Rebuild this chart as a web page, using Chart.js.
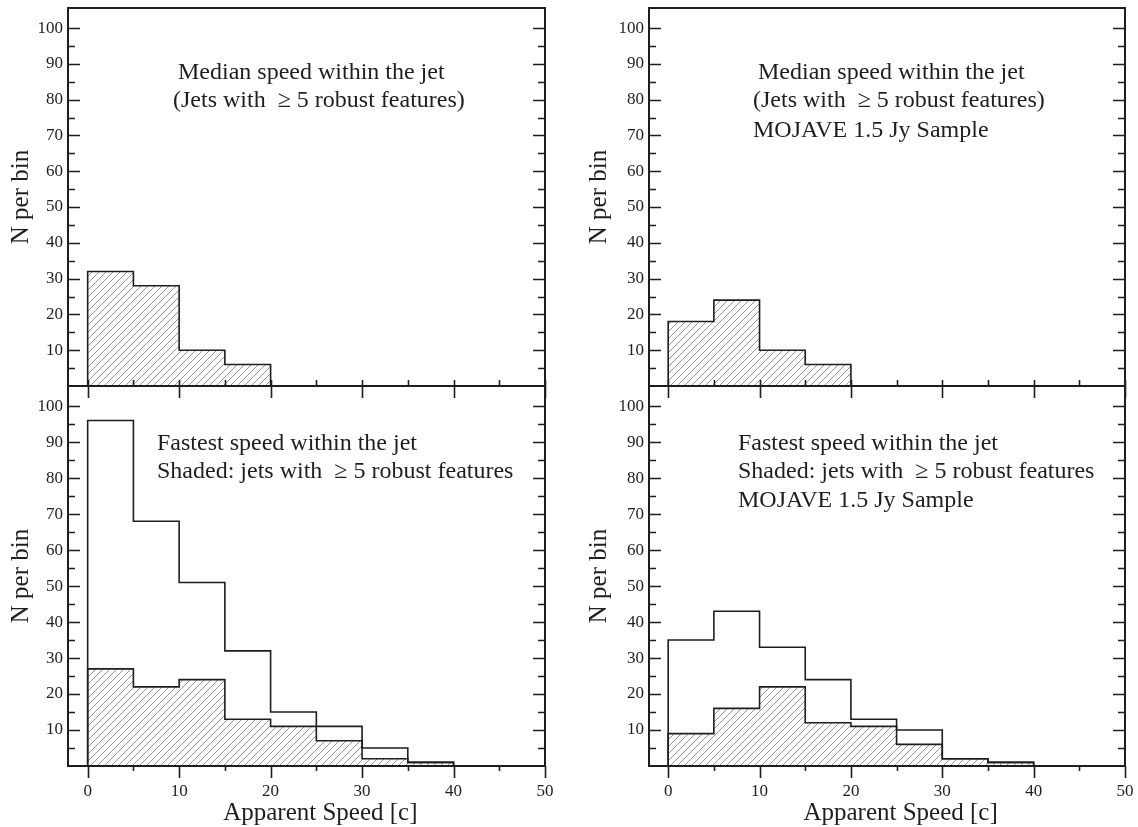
<!DOCTYPE html>
<html><head><meta charset="utf-8">
<script src="https://cdn.jsdelivr.net/npm/chart.js@4.4.1/dist/chart.umd.min.js"></script>
<style>
html,body{margin:0;padding:0;background:#fff;}
#wrap{position:relative;width:1138px;height:827px;overflow:hidden;background:#fff;}
canvas{position:absolute;}
</style></head><body>
<div id="wrap">
<canvas id="tl" width="565" height="400" style="left:0px;top:0px"></canvas>
<canvas id="tr" width="558" height="400" style="left:580px;top:0px"></canvas>
<canvas id="bl" width="565" height="447" style="left:0px;top:380px"></canvas>
<canvas id="br" width="558" height="447" style="left:580px;top:380px"></canvas>
</div>
<script>
// ---- data ----
const binEdges = [0, 5, 10, 15, 20, 25, 30, 35, 40, 45];
const binEnd = 50;
const medianRobustAll    = [32, 28, 10, 6, 0, 0, 0, 0, 0, 0];
const medianRobustMojave = [18, 24, 10, 6, 0, 0, 0, 0, 0, 0];
const fastestAll         = [96, 68, 51, 32, 15, 11, 5, 1, 0, 0];
const fastestRobustAll   = [27, 22, 24, 13, 11, 7, 2, 1, 0, 0];
const fastestMojave      = [35, 43, 33, 24, 13, 10, 2, 1, 0, 0];
const fastestRobustMojave= [9, 16, 22, 12, 11, 6, 2, 1, 0, 0];
const xTickLabels = [0, 10, 20, 30, 40, 50];
const yTickLabels = [10, 20, 30, 40, 50, 60, 70, 80, 90, 100];
const xTitle = 'Apparent Speed [c]';
const yTitle = 'N per bin';

const FONT = "'Liberation Serif', 'Times New Roman', serif";
const INK = '#1e1e1e';

function stepPoints(vals) {
  const pts = [{x: binEdges[0], y: 0}];
  vals.forEach((v, i) => pts.push({x: binEdges[i], y: v}));
  pts.push({x: binEnd, y: 0});
  return pts;
}

function hatch(ctx) {
  const c = document.createElement('canvas');
  c.width = 7; c.height = 7;
  const g = c.getContext('2d');
  g.strokeStyle = '#959595';
  g.lineWidth = 1;
  g.beginPath();
  g.moveTo(0, 7); g.lineTo(7, 0);
  g.moveTo(-1, 1); g.lineTo(1, -1);
  g.moveTo(6, 8); g.lineTo(8, 6);
  g.stroke();
  return ctx.createPattern(c, 'repeat');
}

const framePlugin = {
  id: 'frame',
  afterDatasetsDraw(chart, args, opts) {
    const {ctx, chartArea: a, scales: {x, y}} = chart;
    ctx.save();
    ctx.strokeStyle = INK;
    ctx.lineWidth = 2;
    ctx.strokeRect(a.left, a.top, a.right - a.left, a.bottom - a.top);
    ctx.lineWidth = 1.6;
    ctx.beginPath();
    for (let v = 5; v <= 100; v += 5) {
      const py = Math.round(y.getPixelForValue(v)) + 0.5;
      const len = v % 10 === 0 ? 12 : 7;
      ctx.moveTo(a.left, py); ctx.lineTo(a.left + len, py);
      ctx.moveTo(a.right, py); ctx.lineTo(a.right - len, py);
    }
    for (let v = 0; v <= 50; v += 5) {
      const px = Math.round(x.getPixelForValue(v)) + 0.5;
      const major = v % 10 === 0;
      if (opts.bottomPanel) {
        ctx.moveTo(px, a.bottom); ctx.lineTo(px, a.bottom + (major ? 12 : 5));
      } else {
        ctx.moveTo(px, a.bottom - 6); ctx.lineTo(px, a.bottom + (major ? 12 : 0));
      }
    }
    ctx.stroke();
    ctx.fillStyle = INK;
    ctx.textBaseline = 'alphabetic';
    ctx.textAlign = 'left';
    ctx.font = '24px ' + FONT;
    (opts.notes || []).forEach(n => ctx.fillText(n.text, a.left + n.dx, a.top + n.dy));
    if (opts.bottomPanel) {
      // x-axis title, centred on the middle of the speed range
      ctx.font = '25px ' + FONT;
      ctx.textAlign = 'center';
      ctx.fillText(xTitle, x.getPixelForValue(binEnd / 2) + 4, a.bottom + 54);
    }
    ctx.restore();
  }
};

function makeChart(id, o) {
  const canvas = document.getElementById(id);
  const ctx = canvas.getContext('2d');
  const datasets = [];
  if (o.open) datasets.push({
    data: stepPoints(o.open), stepped: 'before', fill: false,
    borderColor: INK, borderWidth: 1.6, pointRadius: 0
  });
  datasets.push({
    data: stepPoints(o.shaded), stepped: 'before', fill: 'origin',
    backgroundColor: hatch(ctx), borderColor: INK, borderWidth: 1.6, pointRadius: 0
  });
  return new Chart(ctx, {
    type: 'line',
    data: {datasets},
    options: {
      responsive: false, animation: false, devicePixelRatio: 1,
      layout: {padding: o.padding, autoPadding: false},
      plugins: {legend: {display: false}, tooltip: {enabled: false},
        frame: {bottomPanel: o.bottomPanel, notes: o.notes}},
      scales: {
        x: {
          type: 'linear', min: o.xMin, max: binEnd,
          grid: {display: false, drawTicks: false}, border: {display: false},
          afterBuildTicks: s => { s.ticks = xTickLabels.map(v => ({value: v})); },
          afterFit: s => { s.height = o.xHeight; s.paddingLeft = 0; s.paddingRight = 0; },
          ticks: {display: o.bottomPanel, autoSkip: false, maxRotation: 0, padding: 15,
            color: INK, font: {family: FONT, size: 17}},
          title: {display: false}
        },
        y: {
          type: 'linear', min: 0, max: 105.6,
          grid: {display: false, drawTicks: false}, border: {display: false},
          afterBuildTicks: s => { s.ticks = yTickLabels.map(v => ({value: v})); },
          afterFit: s => { s.width = o.yWidth; s.paddingTop = 0; s.paddingBottom = 0; },
          ticks: {autoSkip: false, padding: 5, color: INK, font: {family: FONT, size: 17}},
          title: {display: true, text: yTitle, color: INK,
            font: {family: FONT, size: 25}, padding: {top: o.yTitlePad, bottom: 0}}
        }
      }
    },
    plugins: [framePlugin]
  });
}

makeChart('tl', {
  shaded: medianRobustAll, bottomPanel: false, xMin: -2.15,
  padding: {left: 0, top: 8, right: 20, bottom: 0}, yWidth: 68, xHeight: 14, yTitlePad: 6,
  notes: [
    {text: 'Median speed within the jet', dx: 110, dy: 71},
    {text: '(Jets with  \u2265 5 robust features)', dx: 105, dy: 99}
  ]
});
makeChart('tr', {
  shaded: medianRobustMojave, bottomPanel: false, xMin: -2.1,
  padding: {left: 0, top: 8, right: 13, bottom: 0}, yWidth: 69, xHeight: 14, yTitlePad: 4,
  notes: [
    {text: 'Median speed within the jet', dx: 109, dy: 71},
    {text: '(Jets with  \u2265 5 robust features)', dx: 104, dy: 99},
    {text: 'MOJAVE 1.5 Jy Sample', dx: 104, dy: 129}
  ]
});
makeChart('bl', {
  open: fastestAll, shaded: fastestRobustAll, bottomPanel: true, xMin: -2.15,
  padding: {left: 0, top: 6, right: 20, bottom: 0}, yWidth: 68, xHeight: 61, yTitlePad: 6,
  notes: [
    {text: 'Fastest speed within the jet', dx: 89, dy: 64},
    {text: 'Shaded: jets with  \u2265 5 robust features', dx: 89, dy: 92},
    {text: '', dx: 0, dy: 0}
  ].filter(n => n.text)
});
makeChart('br', {
  open: fastestMojave, shaded: fastestRobustMojave, bottomPanel: true, xMin: -2.1,
  padding: {left: 0, top: 6, right: 13, bottom: 0}, yWidth: 69, xHeight: 61, yTitlePad: 4,
  notes: [
    {text: 'Fastest speed within the jet', dx: 89, dy: 64},
    {text: 'Shaded: jets with  \u2265 5 robust features', dx: 89, dy: 92},
    {text: 'MOJAVE 1.5 Jy Sample', dx: 89, dy: 121}
  ]
});
</script>
</body></html>
